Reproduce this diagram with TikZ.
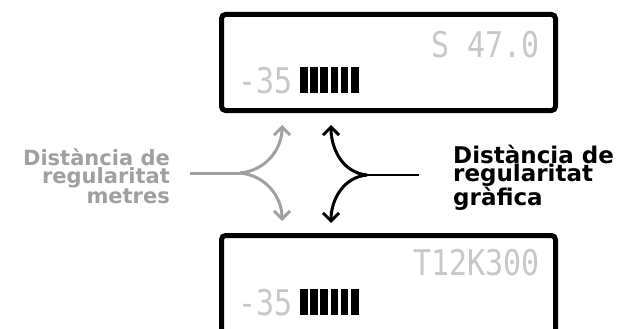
\documentclass[tikz,border=0pt]{standalone}
\usepackage{fontspec}
\usepackage{graphicx}
\newfontfamily\lcdfont{DejaVu Sans Mono}
\newfontfamily\lblfont{DejaVu Sans}
\usetikzlibrary{arrows.meta,positioning}
\definecolor{lcdgray}{RGB}{200,200,200}
\definecolor{lblgray}{RGB}{160,160,160}
\newcommand{\lcdtxt}[1]{\scalebox{1}[1.18]{#1}}
\tikzset{
  display/.style={draw=black,line width=5pt,rounded corners=4pt,minimum width=334pt,minimum height=96pt,inner sep=0pt},
  lcd/.style={text=lcdgray,font=\lcdfont\fontsize{30}{30}\selectfont,inner sep=0pt},
  branch/.style={line width=3pt,-{Straight Barb[length=8pt,width=16pt]}},
}
\begin{document}
\begin{tikzpicture}[x=1pt,y=-1pt]
	\useasboundingbox[fill=white] (0,0) rectangle (618,329);
	% the two displays
	\node[display] (disp1) at (388.5,62.5) {};
	\node[display,minimum height=104pt] (disp2) at (388.5,287.5) {};
	\node[lcd,anchor=base east] (val1) at (540,57) {\lcdtxt{S 47.0}};
	\node[lcd,anchor=base west] (rssi1) at (238,93) {\lcdtxt{-35}};
	\node[lcd,anchor=base east] (val2) at (540,275) {\lcdtxt{T12K300}};
	\node[lcd,anchor=base west] (rssi2) at (238,315) {\lcdtxt{-35}};
	\foreach \i in {0,...,5}
	{
		\fill ({300+10.2*\i},67) rectangle ++(7.5,26);
		\fill ({300+10.2*\i},289) rectangle ++(7.5,26);
	}
	% labels
	\node[anchor=north east,inner sep=0pt,align=right,text=lblgray,font=\lblfont\bfseries\fontsize{21}{16}\selectfont] (metres) at (170,149) {Distància de\\regularitat\\metres};
	\node[anchor=north west,inner sep=0pt,align=left,font=\lblfont\bfseries\fontsize{23}{18}\selectfont] (grafica) at (453,144.5) {Distància de\\regularitat\\gràfica};
	% split arrows
	\coordinate (jm) at (240,173);
	\coordinate (jg) at (367,175);
	\coordinate (mup) at (282,125);
	\coordinate (mdown) at (282,221);
	\coordinate (gup) at (331,125);
	\coordinate (gdown) at (331,223);
	\draw[lblgray,line width=3pt] (190,173) -- (jm);
	\draw[lblgray,branch] (jm) to[out=5,in=-90] (mup);
	\draw[lblgray,branch] (jm) to[out=-5,in=90] (mdown);
	\draw[line width=2.5pt,line cap=rect] (418,175) -- (jg);
	\draw[branch] (jg) to[out=175,in=-90] (gup);
	\draw[branch] (jg) to[out=185,in=90] (gdown);
\end{tikzpicture}
\end{document}
